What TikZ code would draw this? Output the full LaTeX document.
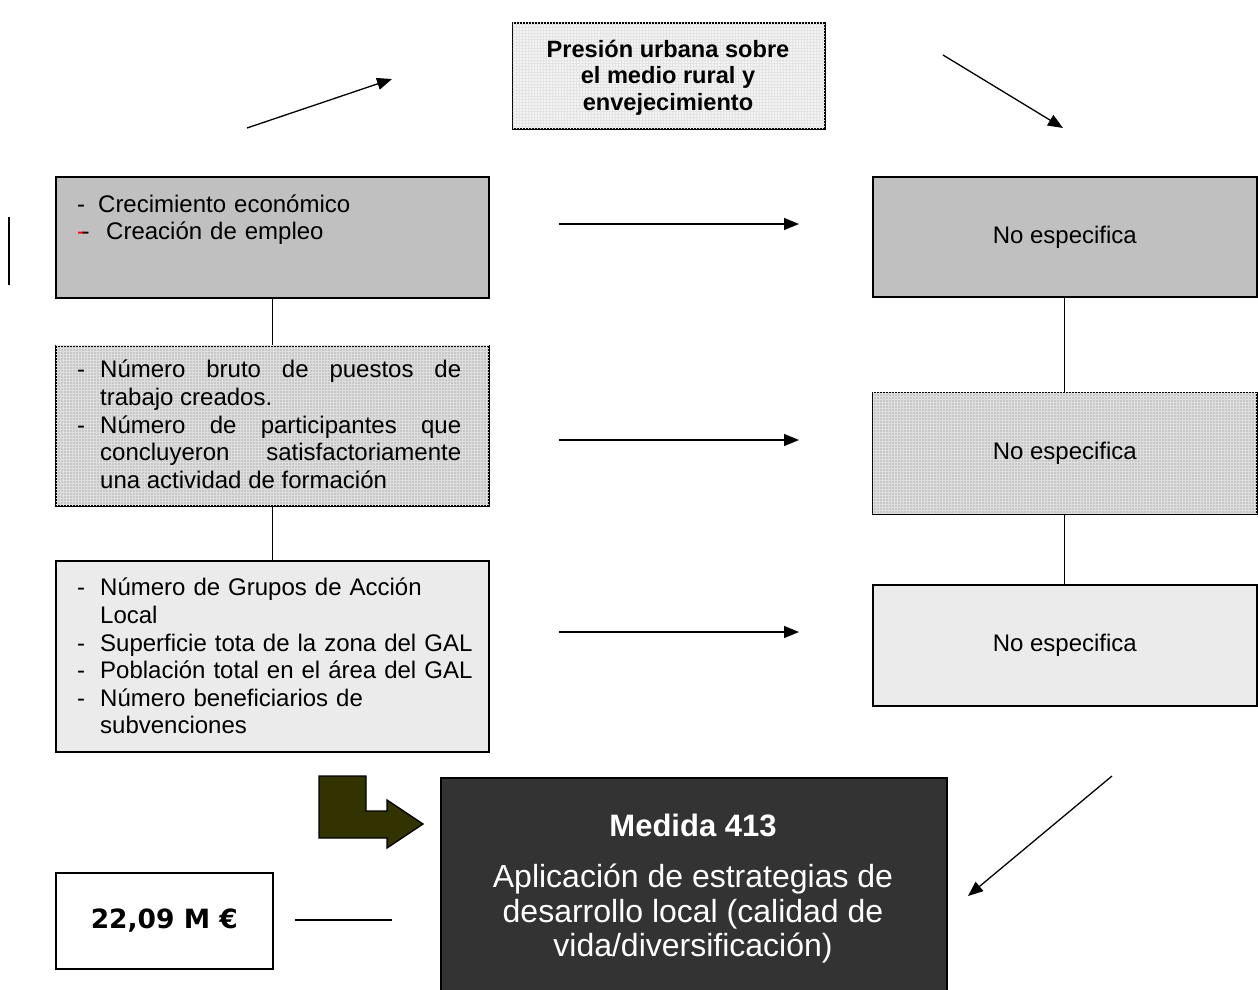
\documentclass[tikz,border=0pt]{standalone}
\usepackage{fontspec}
\setmainfont{Liberation Sans}
\newfontfamily\verdanafont{DejaVu Sans}
\usetikzlibrary{arrows.meta,positioning,patterns}
\definecolor{boxgray}{RGB}{192,192,192}
\definecolor{gridgray}{RGB}{200,200,200}
\definecolor{gridline}{RGB}{222,222,222}
\definecolor{palegray}{RGB}{235,235,235}
\definecolor{topgray}{RGB}{243,243,243}
\definecolor{topline}{RGB}{228,228,228}
\definecolor{darkbox}{RGB}{51,51,51}
\definecolor{bentolive}{RGB}{51,51,0}
% one dash item with hanging indent
\newcommand{\itm}[1]{\hangindent=23pt\hangafter=1\noindent\makebox[23pt][l]{-}#1\hfill\null\par}

\begin{document}
\begin{tikzpicture}[x=1pt,y=-1pt,
    box/.style={draw=black, line width=1.6pt, inner sep=0pt, anchor=north west,
      font=\fontsize{24}{27.6}\selectfont},
    gridbox/.style={box, fill=gridgray, postaction={pattern=grid, pattern color=gridline}},
    topbox/.style={box, fill=topgray, postaction={pattern=grid, pattern color=topline}},
    txt/.style={inner sep=0pt, anchor=north west, text width=384pt,
      font=\fontsize{24}{27.6}\selectfont},
    conn/.style={line width=1.3pt},
    arr/.style={-{Triangle[length=15pt,width=12pt]}, line width=1.3pt}]
  \useasboundingbox (0,0) rectangle (1258,990);
  % left column
  \node[box, fill=boxgray, minimum width=433pt, minimum height=121pt] (crec) at (55,176) {};
  \node[gridbox, minimum width=433pt, minimum height=160pt] (bruto) at (55,345) {};
  \node[box, fill=palegray, minimum width=433pt, minimum height=191pt] (grupos) at (55,560) {};
  \node[txt, align=left] (crect) at (77,194.5)
    {\makebox[21pt][l]{-}Crecimiento económico\newline
     \makebox[29pt][l]{\textcolor{red}{-}\kern-3.5pt-}Creación de empleo};
  \node[txt, align=justify] (brutot) at (77,360)
    {\itm{Número bruto de puestos de\linebreak trabajo creados.}
     \itm{Número de participantes que\linebreak concluyeron satisfactoriamente\linebreak una actividad de formación}};
  \node[txt, align=left, text width=400pt] (grupost) at (77,578)
    {\itm{Número de Grupos de Acción\newline Local}
     \itm{Superficie tota de la zona del GAL}
     \itm{Población total en el área del GAL}
     \itm{Número beneficiarios de\newline subvenciones}};
  % top and right column
  \node[topbox, minimum width=312pt, minimum height=106pt] (presion) at (512,22) {};
  \node[inner sep=0pt, anchor=north, align=center,
    font=\fontsize{23.6}{26.8}\selectfont\bfseries] (presiont) at (668,39.5)
    {Presión urbana sobre\\el medio rural y\\envejecimiento};
  \node[box, fill=boxgray, minimum width=384pt, minimum height=120pt] (spec1) at (872,176) {No especifica};
  \node[gridbox, minimum width=384pt, minimum height=121pt] (spec2) at (872,392) {No especifica};
  \node[box, fill=palegray, minimum width=384pt, minimum height=121pt] (spec3) at (872,584) {No especifica};
  % bottom
  \node[box, fill=darkbox, minimum width=506pt, minimum height=222pt] (medida) at (440,777) {};
  \node[inner sep=0pt, anchor=north, align=center, text=white,
    font=\fontsize{32}{34.5}\selectfont] (medidat) at (693,813.4)
    {\textbf{\fontsize{31}{34.5}\selectfont Medida 413}\\[17pt]Aplicación de estrategias de\\desarrollo local (calidad de\\vida/diversificación)};
  \node[box, fill=white, minimum width=217pt, minimum height=96pt,
    font=\fontsize{26.5}{30}\verdanafont\bfseries] (money) at (55,872) {22,09 M €};
  \draw[fill=bentolive, line width=1.3pt] (319,776) -- (366,776) -- (366,811) -- (387,811)
    -- (387,800) -- (423,824) -- (387,848) -- (387,838) -- (319,838) -- cycle;
  % connectors
  \draw[conn] (crec.south) -- (bruto.north);
  \draw[conn] (bruto.south) -- (grupos.north);
  \draw[conn] (spec1.south) -- (spec2.north);
  \draw[conn] (spec2.south) -- (spec3.north);
  \foreach \y [count=\i] in {224,440,632} {
    \coordinate (hs\i) at (559,\y);
    \coordinate (he\i) at (799,\y);
    \draw[arr] (hs\i) -- (he\i);
  }
  \coordinate (ls) at (247,128);
  \coordinate (le) at (392,79);
  \coordinate (rs) at (943,55);
  \coordinate (re) at (1063,128);
  \coordinate (bs) at (1112,776);
  \coordinate (be) at (968,896);
  \coordinate (ms) at (295,920);
  \coordinate (me) at (392,920);
  \draw[arr] (ls) -- (le);
  \draw[arr] (rs) -- (re);
  \draw[arr] (bs) -- (be);
  \draw[conn] (ms) -- (me);
  \draw[line width=1.6pt] (9,217) -- (9,285);
\end{tikzpicture}
\end{document}
